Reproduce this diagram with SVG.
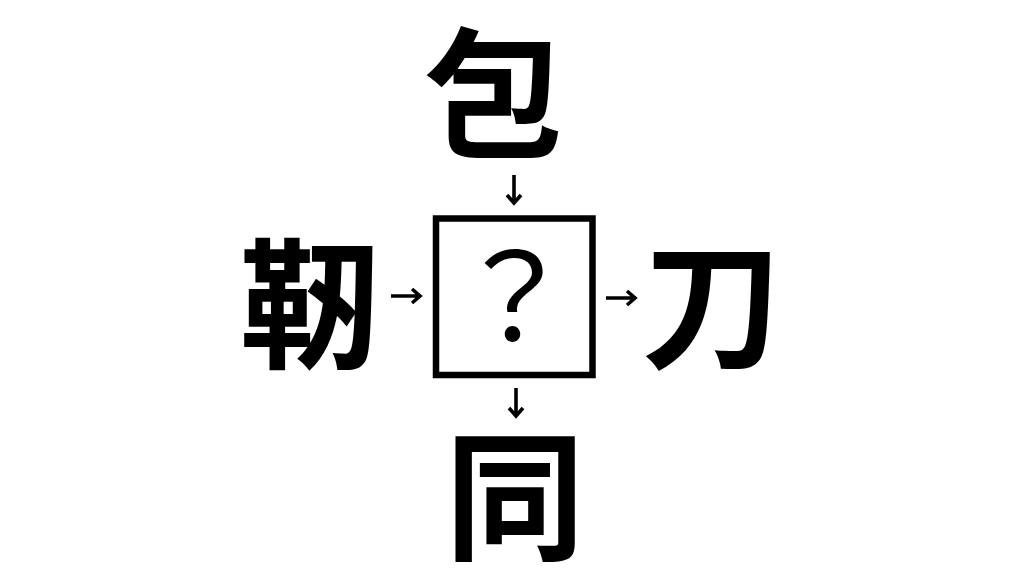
<svg xmlns="http://www.w3.org/2000/svg" width="1024" height="576" viewBox="0 0 1024 576">
<defs>
<style>
.k{font-family:"Noto Sans CJK JP","Noto Sans CJK SC",sans-serif;font-weight:700;font-size:140px;fill:#000;text-anchor:middle}
.q{font-family:"Noto Sans CJK JP","Noto Sans CJK SC",sans-serif;font-weight:400;font-size:120px;fill:#000;text-anchor:middle}
.c{fill:none;stroke:#000;stroke-width:3.6;stroke-linecap:butt;stroke-linejoin:miter}
</style>
</defs>
<rect width="1024" height="576" fill="#fff"/>
<g id="node-top"><text class="k" x="494" y="146">包</text></g>
<g id="node-left"><text class="k" x="310" y="357">靭</text></g>
<g id="node-right"><text class="k" x="712" y="357">刀</text></g>
<g id="node-bottom"><text class="k" x="515" y="549">同</text></g>
<g id="node-center">
<rect x="436" y="218.5" width="156.5" height="156.5" fill="none" stroke="#000" stroke-width="6.5"/>
<text class="q" x="514" y="341">？</text>
</g>
<g id="connectors">
<path class="c" d="M514 175V203M507 195L514 203L521 195"/>
<path class="c" d="M391 296H420M412 289L420 296L412 303"/>
<path class="c" d="M606 298H635M627 291L635 298L627 305"/>
<path class="c" d="M516 388V416M509 408L516 416L523 408"/>
</g>
</svg>
